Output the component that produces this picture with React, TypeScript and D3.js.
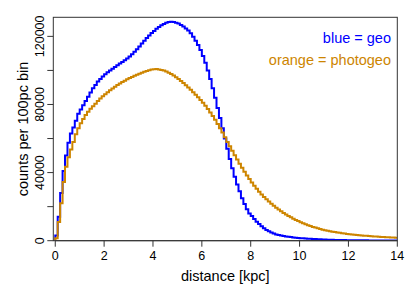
import React from 'react';
import * as d3 from 'd3';

// counts per 100 pc bin, bins start at 0.0, 0.1, ... 13.9 kpc
const binWidth = 0.1;

const geoCounts = [
  3000, 14000, 28000, 41000, 50000, 57500, 63000, 66500, 70500, 74500,
  77000, 79500, 82000, 84500, 87000, 89500, 91500, 93500, 95000, 96500,
  97800, 99000, 100000, 101000, 102000, 103000, 104000, 105000, 106000, 107000,
  108200, 109500, 111000, 112500, 114000, 115800, 117500, 119000, 120500, 122000,
  123200, 124500, 125500, 126500, 127300, 128000, 128500, 128600, 128500, 128000,
  127500, 126700, 125800, 124600, 123500, 121800, 119800, 117500, 115000, 112000,
  108500, 104500, 100000, 95000, 89500, 84000, 78000, 72000, 66000, 60000,
  54000, 48000, 42500, 37500, 33000, 29000, 25000, 21500, 18500, 16000,
  14500, 12800, 11200, 9800, 8500, 7300, 6300, 5500, 4800, 4200,
  3700, 3300, 3000, 2750, 2500, 2300, 2100, 1900, 1750, 1600,
  1500, 1400, 1300, 1200, 1100, 1000, 930, 860, 790, 720,
  650, 600, 560, 520, 480, 450, 420, 390, 360, 330,
  300, 285, 270, 255, 240, 225, 210, 195, 180, 165,
  150, 145, 135, 125, 118, 110, 102, 95, 88, 80,
];

const photogeoCounts = [
  1500, 11000, 22000, 34500, 43500, 49000, 53500, 58000, 62500, 66000,
  69000, 71500, 73800, 75800, 77500, 79000, 80500, 82000, 83500, 84800,
  86000, 87200, 88300, 89400, 90400, 91400, 92300, 93200, 94000, 94800,
  95500, 96200, 96900, 97500, 98100, 98700, 99200, 99700, 100100, 100500,
  100700, 100800, 100600, 100300, 99900, 99400, 98700, 97900, 97000, 96000,
  95000, 93800, 92600, 91300, 90000, 88600, 87200, 85700, 84200, 82600,
  81000, 79200, 77300, 75300, 73200, 71000, 68600, 66100, 63500, 60800,
  58000, 55400, 52800, 50200, 47700, 45200, 42800, 40500, 38300, 36200,
  34200, 32300, 30500, 28800, 27200, 25700, 24300, 23000, 21700, 20500,
  19400, 18300, 17300, 16300, 15400, 14500, 13700, 12900, 12200, 11500,
  10800, 10200, 9600, 9100, 8600, 8100, 7700, 7300, 6900, 6500,
  6200, 5900, 5600, 5300, 5050, 4800, 4600, 4400, 4200, 4000,
  3800, 3650, 3500, 3350, 3200, 3080, 2960, 2840, 2730, 2620,
  2520, 2420, 2330, 2240, 2160, 2080, 2000, 1930, 1860, 1800,
];

const xTicks = [0, 2, 4, 6, 8, 10, 12, 14];
const yTicks = [0, 20000, 40000, 60000, 80000, 100000, 120000];
const yLabels = [0, 40000, 80000, 120000];

const BLUE = '#0000ff';
const ORANGE = '#cd8500';
const FONT = '"Liberation Sans", Arial, Helvetica, sans-serif';

const W = 415;
const H = 297;
const left = 53.3, right = 397.3, top = 17.3, bottom = 240.7;

const x = d3.scaleLinear().domain([-0.08, 14]).range([left, right]);
const y = d3.scaleLinear().domain([0, 131200]).range([bottom, top]);

const stepLine = d3.line<[number, number]>()
  .x((d) => x(d[0]))
  .y((d) => y(d[1]))
  .curve(d3.curveStepAfter);

function histPath(counts: number[]) {
  const pts: [number, number][] = [[0, 0]];
  counts.forEach((c, i) => pts.push([i * binWidth, c]));
  pts.push([counts.length * binWidth, counts[counts.length - 1]]);
  return stepLine(pts) || '';
}

export default function App() {
  return (
    <svg width={W} height={H} style={{ position: 'absolute', left: 0, top: 0, background: '#fff' }}
      fontFamily={FONT}>
      <defs>
        <clipPath id="plotArea">
          <rect x={left} y={top} width={right - left} height={bottom - top} />
        </clipPath>
      </defs>

      <g clipPath="url(#plotArea)" fill="none" strokeWidth={2} strokeLinejoin="miter">
        <path d={histPath(geoCounts)} stroke={BLUE} />
        <path d={histPath(photogeoCounts)} stroke={ORANGE} />
      </g>

      <rect x={left} y={top} width={right - left} height={bottom - top}
        fill="none" stroke="#333" strokeWidth={1} />

      {/* x axis */}
      <line x1={x(0)} x2={x(14)} y1={bottom} y2={bottom} stroke="#333" />
      {xTicks.map((t) => (
        <g key={t}>
          <line x1={x(t)} x2={x(t)} y1={bottom} y2={bottom + 6} stroke="#333" />
          <text x={x(t)} y={259.5} textAnchor="middle" fontSize={12.5} fill="#000">{t}</text>
        </g>
      ))}
      <text x={(left + right) / 2} y={281} textAnchor="middle" fontSize={14.5} fill="#000">
        distance [kpc]
      </text>

      {/* y axis */}
      {yTicks.map((t) => (
        <line key={t} x1={left - 6} x2={left} y1={y(t)} y2={y(t)} stroke="#333" />
      ))}
      {yLabels.map((t) => (
        <text key={t} transform={`translate(43.5,${y(t)}) rotate(-90)`} textAnchor="middle"
          fontSize={12.5} fill="#000">{t}</text>
      ))}
      <text transform={`translate(28,${(top + bottom) / 2}) rotate(-90)`} textAnchor="middle"
        fontSize={14.5} fill="#000">counts per 100pc bin</text>

      {/* legend */}
      <text x={391} y={43} textAnchor="end" fontSize={14.5} fill={BLUE}>blue = geo</text>
      <text x={391} y={65} textAnchor="end" fontSize={14.5} fill={ORANGE}>orange = photogeo</text>
    </svg>
  );
}
